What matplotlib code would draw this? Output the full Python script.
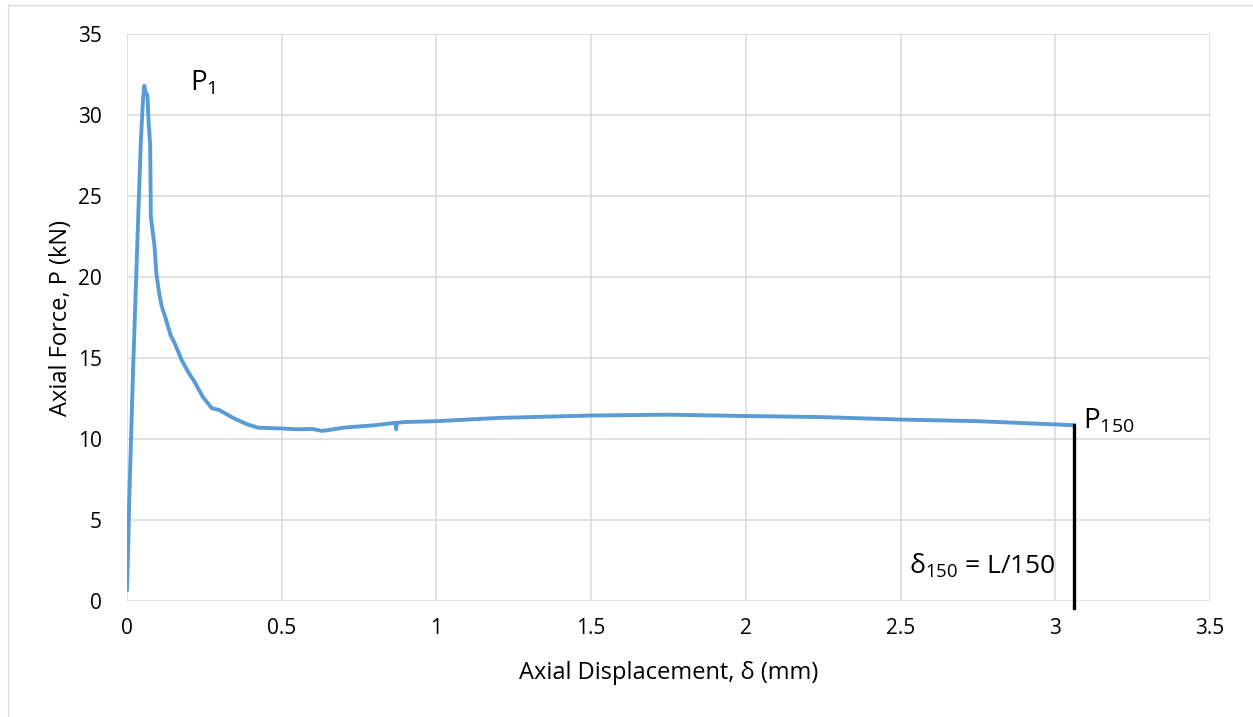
import matplotlib.pyplot as plt
from matplotlib.patches import Rectangle

plt.rcParams['font.family'] = ['Open Sans', 'DejaVu Sans']

# axial displacement (mm) and axial force (kN)
disp = [0.0, 0.004, 0.007, 0.02, 0.035, 0.045, 0.052, 0.056, 0.060, 0.066, 0.070,
        0.075, 0.077, 0.083, 0.089, 0.095, 0.104, 0.112, 0.124, 0.141, 0.152,
        0.176, 0.199, 0.216, 0.245, 0.274, 0.297, 0.343, 0.389, 0.424, 0.45,
        0.5, 0.55, 0.6, 0.63, 0.65, 0.7, 0.8, 0.868, 0.870, 0.872, 0.9, 1.0,
        1.2, 1.5, 1.75, 2.0, 2.25, 2.5, 2.75, 3.0, 3.06]
force = [0.7, 3.5, 6.1, 14.5, 23.0, 28.5, 31.0, 31.8, 31.4, 31.2, 29.5,
         28.1, 23.7, 22.8, 21.9, 20.2, 19.0, 18.2, 17.5, 16.4, 16.0,
         14.9, 14.1, 13.6, 12.6, 11.9, 11.8, 11.3, 10.9, 10.7, 10.68,
         10.65, 10.6, 10.62, 10.5, 10.55, 10.7, 10.85, 11.0, 10.6, 11.0, 11.05, 11.1,
         11.3, 11.45, 11.5, 11.42, 11.35, 11.2, 11.1, 10.9, 10.85]

x_ticks = [0, 0.5, 1, 1.5, 2, 2.5, 3, 3.5]
y_ticks = [0, 5, 10, 15, 20, 25, 30, 35]

delta_150 = 3.06
p_150 = 10.85

fig = plt.figure(figsize=(12.53, 7.17), dpi=100)
ax = fig.add_axes([127 / 1253, 1 - 601 / 717, (1210 - 127) / 1253, (601 - 34) / 717])

# chart area border
fig.patches.append(Rectangle((8 / 1253, -0.01), 1.02, 1 - 5 / 717 + 0.01,
                             transform=fig.transFigure, fill=False,
                             edgecolor='#d9d9d9', linewidth=1))

ax.plot(disp, force, color='#5b9bd5', linewidth=2.8, solid_joinstyle='round', zorder=3)
ax.plot([delta_150, delta_150], [p_150, -0.45], color='black', linewidth=2.4,
        clip_on=False, zorder=4)

ax.set_xlim(0, 3.5)
ax.set_ylim(0, 35)
ax.set_xticks(x_ticks)
ax.set_xticklabels(['0', '0.5', '1', '1.5', '2', '2.5', '3', '3.5'])
ax.set_yticks(y_ticks)
ax.grid(True, color='#d9d9d9', linewidth=1.1)
ax.set_axisbelow(True)
for s in ax.spines.values():
    s.set_visible(False)
ax.tick_params(length=0, labelsize=15, colors='black', pad=12)
ax.tick_params(axis='y', pad=18)

ax.set_xlabel('Axial Displacement, δ (mm)', fontsize=17)
ax.set_ylabel('Axial Force, P (kN)', fontsize=17)
ax.xaxis.set_label_coords(0.5, -0.105)
ax.yaxis.set_label_coords(-0.05, 0.5)

ax.text(0.205, 32.0, r'P$_{\mathregular{1}}$', fontsize=20, va='center', ha='left')
ax.text(3.09, 11.1, r'P$_{\mathregular{150}}$', fontsize=20, va='center', ha='left')
ax.text(3.0, 2.2, r'δ$_{\mathregular{150}}$ = L/150', fontsize=19, va='center', ha='right')

fig.savefig('out.png', dpi=100)
